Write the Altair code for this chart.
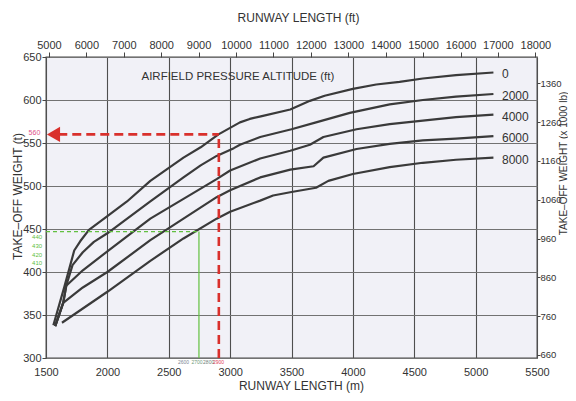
import altair as alt
import pandas as pd

# ---------------- data ----------------
# Runway length (m) and take-off weight (t) along each pressure-altitude curve
ALT_0_M = [1560, 1650, 1730, 1780, 1850, 2000, 2160, 2350, 2620, 2760, 2905, 3080, 3160, 3250, 3490, 3650, 3770, 4000, 4190, 4380, 4570, 4840, 5145]
ALT_0_T = [338, 383, 425, 436, 449, 465, 482, 506, 533, 545, 560, 574, 578, 581, 589, 599, 605, 613, 618, 621, 625, 629, 632]

ALT_2000_M = [1575, 1640, 1665, 1716, 1800, 1890, 2000, 2350, 2620, 2760, 2890, 3030, 3080, 3245, 3500, 3700, 3975, 4300, 4570, 4840, 5145]
ALT_2000_T = [337, 364, 384, 408, 423, 435, 445, 482, 510, 524, 535, 544, 548, 557, 566, 574, 585, 595, 600, 604, 607]

ALT_4000_M = [1575, 1640, 1665, 1800, 2000, 2350, 2620, 2890, 3000, 3245, 3490, 3650, 3760, 4030, 4300, 4570, 4840, 5145]
ALT_4000_T = [337, 364, 384, 402, 424, 462, 485, 508, 518, 532, 541, 548, 557, 566, 572, 576, 580, 583]

ALT_6000_M = [1575, 1640, 1800, 2000, 2350, 2620, 2890, 3000, 3245, 3490, 3680, 3760, 4030, 4300, 4570, 4840, 5145]
ALT_6000_T = [337, 364, 382, 400, 437, 462, 487, 495, 510, 519, 523, 533, 543, 549, 553, 555, 558]

ALT_8000_M = [1630, 2000, 2350, 2620, 2890, 3000, 3245, 3350, 3500, 3700, 3800, 4000, 4300, 4570, 4840, 5145]
ALT_8000_T = [341, 377, 413, 439, 462, 470, 483, 489, 493, 498, 506, 514, 522, 527, 530.5, 533]

CURVE_NAMES = ["0", "2000", "4000", "6000", "8000"]
CURVE_M = [ALT_0_M, ALT_2000_M, ALT_4000_M, ALT_6000_M, ALT_8000_M]
CURVE_T = [ALT_0_T, ALT_2000_T, ALT_4000_T, ALT_6000_T, ALT_8000_T]
CURVE_LABEL_M = 5215

# axis ticks
BOTTOM_TICKS_M = [1500, 2000, 2500, 3000, 3500, 4000, 4500, 5000, 5500]
LEFT_TICKS_T = [300, 350, 400, 450, 500, 550, 600, 650]
TOP_TICKS_FT = [5000, 6000, 7000, 8000, 9000, 10000, 11000, 12000, 13000, 14000, 15000, 16000, 17000, 18000]
RIGHT_TICKS_KLB = [660, 760, 860, 960, 1060, 1160, 1260, 1360]

# worked example (red) and secondary reading (green)
RED_M = 2908
RED_T = 560
RED_ARROW_M = 1561
RED_LINE_START_M = 1600
RED_LABEL = "560"
RED_LABEL_M = 1406
RED_LABEL_T = 561.5

GREEN_M = 2746
GREEN_T = 447
GREEN_LABELS = ["440", "430", "420", "410"]
GREEN_LABEL_T = [440.5, 430, 420, 410.5]
GREEN_LABEL_M = 1427

SMALL_BOTTOM_LABELS = ["2600", "2700", "2800", "2900"]
SMALL_BOTTOM_M = [2620, 2730, 2825, 2906]
SMALL_BOTTOM_COLORS = ["#7d8796", "#6f9a7a", "#6f7f7a", "#e0405a"]
SMALL_BOTTOM_T = 295.8

NOTE_TEXT = "AIRFIELD PRESSURE ALTITUDE (ft)"
NOTE_M = 3063
NOTE_T = 626.5

X_DOMAIN = [1500, 5500]
Y_DOMAIN = [300, 650]
FT_DOMAIN = [1500 * 3.28084, 5500 * 3.28084]
KLB_DOMAIN = [652, 1428]

FONT = "Liberation Sans Narrow, Arial Narrow, Liberation Sans, sans-serif"
INK = "#333333"
RED = "#d9302c"
GREEN = "#62c040"

# ---------------- tables ----------------
rows = []
for name, ms, ts in zip(CURVE_NAMES, CURVE_M, CURVE_T):
    for i, (m, t) in enumerate(zip(ms, ts)):
        rows.append({"alt": name, "i": i, "m": m, "t": t})
curves_df = pd.DataFrame(rows)

labels_df = pd.DataFrame({
    "alt": CURVE_NAMES,
    "m": [CURVE_LABEL_M] * len(CURVE_NAMES),
    "t": [ts[-1] for ts in CURVE_T],
})


def X(field="m", axis=None):
    return alt.X(f"{field}:Q", scale=alt.Scale(domain=X_DOMAIN, nice=False, zero=False), axis=axis)


def Y(field="t", axis=None):
    return alt.Y(f"{field}:Q", scale=alt.Scale(domain=Y_DOMAIN, nice=False, zero=False), axis=axis)


bottom_axis = alt.Axis(
    orient="bottom", values=BOTTOM_TICKS_M, format="d", labelFlush=False, labelOverlap=False,
    labelFont=FONT, labelFontSize=11, labelColor=INK, labelPadding=8, tickSize=0,
    grid=True, gridColor="#4f4f4f", gridWidth=1.1, domain=False,
    title="RUNWAY LENGTH (m)", titleFont=FONT, titleFontSize=12, titleFontWeight="normal",
    titleColor=INK, titleX=255, titleY=27, titleBaseline="middle", titleAlign="center",
)
left_axis = alt.Axis(
    orient="left", values=LEFT_TICKS_T, format="d", labelFlush=False, labelOverlap=False,
    labelFont=FONT, labelFontSize=11, labelColor=INK, labelPadding=1, tickSize=4,
    tickColor="#444444", grid=True, gridColor="#727272", gridWidth=1, domain=False,
    title="TAKE–OFF WEIGHT (t)", titleFont=FONT, titleFontSize=12, titleFontWeight="normal",
    titleColor=INK, titleX=-29, titleY=139, titleAngle=270, titleBaseline="middle", titleAlign="center",
)
top_axis = alt.Axis(
    orient="top", values=TOP_TICKS_FT, format="d", labelFlush=False, labelOverlap=False,
    labelFont=FONT, labelFontSize=11, labelColor=INK, labelPadding=2, tickSize=5,
    tickColor="#444444", grid=False, domain=False,
    title="RUNWAY LENGTH (ft)", titleFont=FONT, titleFontSize=12, titleFontWeight="normal",
    titleColor=INK, titleX=252, titleY=-40, titleBaseline="middle", titleAlign="center",
)
right_axis = alt.Axis(
    orient="right", values=RIGHT_TICKS_KLB, format="d", labelFlush=False, labelOverlap=False,
    labelFont=FONT, labelFontSize=9.5, labelColor=INK, labelPadding=0, tickSize=3,
    tickColor="#444444", grid=False, domain=False,
    title="TAKE–OFF WEIGHT (x 1000 lb)", titleFont=FONT, titleFontSize=10, titleFontWeight="normal",
    titleColor=INK, titleX=26, titleY=106, titleAngle=270, titleBaseline="middle", titleAlign="center",
)

curves = alt.Chart(curves_df).mark_line(color="#3a3a3a", strokeWidth=2.2, strokeJoin="round").encode(
    x=X(axis=bottom_axis), y=Y(axis=left_axis), detail="alt:N", order="i:Q"
)

curve_labels = alt.Chart(labels_df).mark_text(
    align="left", baseline="middle", dy=2, font=FONT, fontSize=12, color=INK
).encode(x=X(), y=Y(), text="alt:N")

note = alt.Chart(pd.DataFrame({"m": [NOTE_M], "t": [NOTE_T], "s": [NOTE_TEXT]})).mark_text(
    align="center", baseline="middle", font=FONT, fontSize=11.5, color=INK
).encode(x=X(), y=Y(), text="s:N")

# green reading
green_df = pd.DataFrame({"m0": [X_DOMAIN[0]], "m": [GREEN_M], "t0": [Y_DOMAIN[0]], "t": [GREEN_T]})
green_h = alt.Chart(green_df).mark_rule(color=GREEN, strokeWidth=1.2, strokeDash=[4, 3]).encode(
    x=X("m0"), x2="m:Q", y=Y()
)
green_v = alt.Chart(green_df).mark_rule(color=GREEN, strokeWidth=1.2).encode(
    x=X(), y=Y("t0"), y2="t:Q"
)
green_txt = alt.Chart(pd.DataFrame({"m": [GREEN_LABEL_M] * 4, "t": GREEN_LABEL_T, "s": GREEN_LABELS})).mark_text(
    align="center", baseline="middle", font=FONT, fontSize=6, color=GREEN
).encode(x=X(), y=Y(), text="s:N")

# red worked example
red_df = pd.DataFrame({"m0": [RED_LINE_START_M], "m": [RED_M], "t0": [Y_DOMAIN[0]], "t": [RED_T]})
red_v = alt.Chart(red_df).mark_rule(color=RED, strokeWidth=2.6, strokeDash=[9, 5]).encode(
    x=X(), y=Y("t0"), y2="t:Q"
)
red_h = alt.Chart(red_df).mark_rule(color=RED, strokeWidth=2.6, strokeDash=[9, 5]).encode(
    x=X("m0"), x2="m:Q", y=Y()
)
red_arrow = alt.Chart(pd.DataFrame({"m": [RED_ARROW_M], "t": [RED_T]})).mark_point(
    shape="triangle-left", filled=True, size=230, color=RED, opacity=1
).encode(x=X(), y=Y())
red_txt = alt.Chart(pd.DataFrame({"m": [RED_LABEL_M], "t": [RED_LABEL_T], "s": [RED_LABEL]})).mark_text(
    align="center", baseline="middle", font=FONT, fontSize=7, color="#e0508a"
).encode(x=X(), y=Y(), text="s:N")

small_df = pd.DataFrame({"m": SMALL_BOTTOM_M, "t": [SMALL_BOTTOM_T] * 4, "s": SMALL_BOTTOM_LABELS,
                         "c": SMALL_BOTTOM_COLORS})
small_txt = alt.Chart(small_df).mark_text(
    align="center", baseline="middle", font=FONT, fontSize=5
).encode(x=X(), y=Y(), text="s:N", color=alt.Color("c:N", scale=None))

# secondary axes (feet on top, thousands of lb on the right)
top = alt.Chart(pd.DataFrame({"ft": TOP_TICKS_FT})).mark_point(opacity=0).encode(
    x=alt.X("ft:Q", scale=alt.Scale(domain=FT_DOMAIN, nice=False, zero=False), axis=top_axis),
    y=alt.value(0),
)
right = alt.Chart(pd.DataFrame({"klb": RIGHT_TICKS_KLB})).mark_point(opacity=0).encode(
    y=alt.Y("klb:Q", scale=alt.Scale(domain=KLB_DOMAIN, nice=False, zero=False), axis=right_axis),
    x=alt.value(0),
)

chart = alt.layer(
    curves, green_h, green_v, red_v, red_h, red_arrow, curve_labels, note, green_txt, red_txt, small_txt, top, right
).resolve_scale(
    x="independent", y="independent"
).properties(
    width=491, height=301,
    padding={"left": 38, "top": 49, "right": 31, "bottom": 35},
    autosize=alt.AutoSizeParams(type="none"),
    background="white",
).configure_view(
    fill="#f1f1f7", stroke="#4a4a4a", strokeWidth=1.3
)

chart.save("out.html", embed_options={"renderer": "svg", "actions": False})
